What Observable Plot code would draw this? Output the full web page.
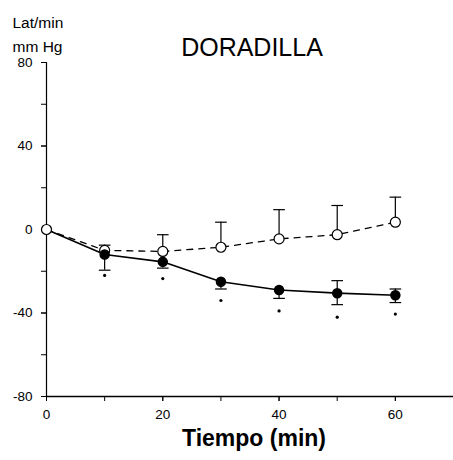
<!DOCTYPE html>
<html><head><meta charset="utf-8">
<script src="https://cdn.jsdelivr.net/npm/d3@7"></script>
<script src="https://cdn.jsdelivr.net/npm/@observablehq/plot@0.6"></script>
<style>body{margin:0;background:#fff;font-family:"Liberation Sans",Arial,sans-serif}</style>
</head><body><div id="chart"></div>
<script>
const times = [0, 10, 20, 30, 40, 50, 60];
const closedVals = [0, -12, -15.5, -25, -29, -30.5, -31.5];
const closedErrLow = [0, -19.5, -18.5, -28.5, -33, -36, -35];
const closedErrHigh = [0, -12, -15.5, -25, -29, -24.5, -28.5];
const openVals = [0, -10, -10.5, -8.5, -4.5, -2.5, 3.5];
const openErrHigh = [0, -7.5, -2.5, 3.5, 9.5, 11.5, 15.5];
const sigMarks = [null, -22, -23.5, -34, -39, -42, -40.5];
const yLabelTicks = [-80, -40, 0, 40, 80];
const yMinorTicks = [-80, -60, -40, -20, 0, 20, 40, 60, 80];
const xLabelTicks = [0, 20, 40, 60];
const xMinorTicks = [0, 10, 20, 30, 40, 50, 60];

const closed = times.map((t, i) => ({t, v: closedVals[i], lo: closedErrLow[i], hi: closedErrHigh[i], s: sigMarks[i]}));
const open = times.map((t, i) => ({t, v: openVals[i], hi: openErrHigh[i]}));
const closedBars = closed.filter(d => d.lo !== d.v || d.hi !== d.v);
const openBars = open.filter(d => d.hi !== d.v);
const capW = 1;
const caps = [
  ...closedBars.filter(d => d.lo !== d.v).map(d => ({t: d.t, y: d.lo})),
  ...closedBars.filter(d => d.hi !== d.v).map(d => ({t: d.t, y: d.hi})),
  ...openBars.map(d => ({t: d.t, y: d.hi}))
];

const font = '"Liberation Sans", Arial, sans-serif';
const chart = Plot.plot({
  width: 453, height: 460,
  marginLeft: 46, marginRight: 0, marginTop: 62, marginBottom: 64,
  style: {fontFamily: font, fontSize: "13px", color: "#000", background: "#fff"},
  x: {domain: [0, 70]},
  y: {domain: [-80, 80]},
  marks: [
    Plot.ruleX([0], {stroke: "#000", strokeWidth: 1.2}),
    Plot.ruleY([-80], {stroke: "#000", strokeWidth: 1.5}),
    Plot.axisY({ticks: yLabelTicks, tickSize: 5, tickPadding: 9, tickFormat: d => String(d), label: null, fontSize: 13.5}),
    Plot.axisY({ticks: yMinorTicks, tickSize: 5, tickFormat: () => "", label: null}),
    Plot.axisX({ticks: xLabelTicks, tickSize: 5, tickPadding: 8, tickFormat: d => String(d), label: null, fontSize: 13.5}),
    Plot.axisX({ticks: xMinorTicks, tickSize: 5, tickFormat: () => "", label: null}),
    // error bars
    Plot.ruleX(openBars, {x: "t", y1: "v", y2: "hi", stroke: "#000", strokeWidth: 1.2}),
    Plot.ruleX(closedBars, {x: "t", y1: "lo", y2: "hi", stroke: "#000", strokeWidth: 1.2}),
    Plot.link(caps, {x1: d => d.t - capW, x2: d => d.t + capW, y1: "y", y2: "y", stroke: "#000", strokeWidth: 1.2}),
    // lines
    Plot.line(open, {x: "t", y: "v", stroke: "#000", strokeWidth: 1.3, strokeDasharray: "6,6"}),
    Plot.line(closed, {x: "t", y: "v", stroke: "#000", strokeWidth: 1.6}),
    // markers
    Plot.dot(open, {x: "t", y: "v", r: 5, fill: "#fff", stroke: "#000", strokeWidth: 1.2}),
    Plot.dot(closed.filter(d => d.t > 0), {x: "t", y: "v", r: 4.5, fill: "#000", stroke: "#000"}),
    Plot.dot(closed.filter(d => d.s !== null), {x: "t", y: "s", r: 1.6, fill: "#000", stroke: null}),
    // texts
    Plot.text(["DORADILLA"], {frameAnchor: "top", dx: 2, dy: -24, fontSize: 25, fill: "#000", letterSpacing: "0.5px"}),
    Plot.text(["Lat/min"], {frameAnchor: "top-left", textAnchor: "start", dx: -34, dy: -46, fontSize: 15.5, fill: "#000", letterSpacing: "0.4px"}),
    Plot.text(["mm Hg"], {frameAnchor: "top-left", textAnchor: "start", dx: -34, dy: -22, fontSize: 15.5, fill: "#000", letterSpacing: "0.4px"}),
    Plot.text(["Tiempo (min)"], {frameAnchor: "bottom", dx: 4, dy: 49, fontSize: 23, fontWeight: "bold", fill: "#000"})
  ]
});
document.getElementById("chart").appendChild(chart);
</script>
</body></html>
